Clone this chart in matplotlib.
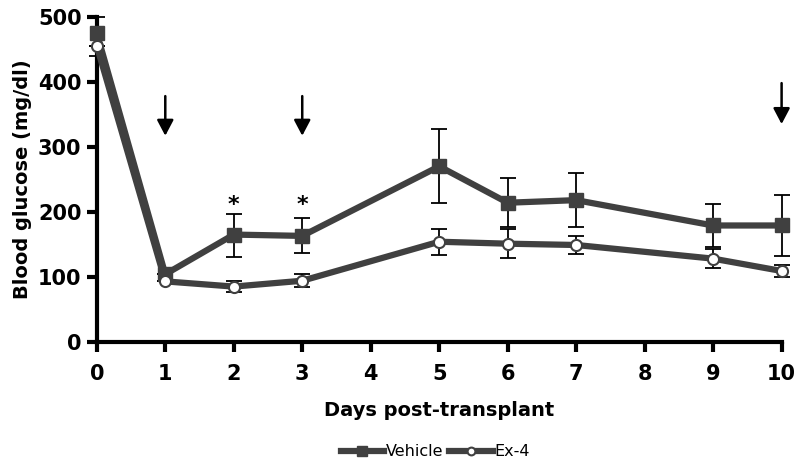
import matplotlib
matplotlib.use("Agg")
import matplotlib.pyplot as plt
import numpy as np

days = [0, 1, 2, 3, 5, 6, 7, 9, 10]
vehicle = [475, 104, 165, 163, 270, 214, 218, 179, 179]
vehicle_err_low = [36, 0, 34, 27, 57, 38, 41, 33, 47]
vehicle_err_high = [25, 0, 32, 27, 57, 38, 41, 33, 47]
ex4 = [455, 93, 85, 94, 154, 151, 149, 128, 109]
ex4_err = [0, 0, 9, 10, 20, 22, 14, 15, 9]
xticks = list(range(0, 11))
yticks = [0, 100, 200, 300, 400, 500]
arrow_days = [1, 3, 10]
arrow_top = [378, 378, 398]
arrow_bottom = [317, 317, 335]
star_days = [2, 3]
star_y = [210, 210]

plt.rcParams['font.family'] = ['DejaVu Sans']
fig = plt.figure(figsize=(8, 4.67), dpi=100)
ax = fig.add_axes([0.121, 0.268, 0.856, 0.696])

lc = '#404040'
ax.errorbar(days, vehicle, yerr=[vehicle_err_low, vehicle_err_high], fmt='none',
            ecolor='black', elinewidth=1.3, capsize=6, capthick=1.3, zorder=2,
            clip_on=False)
ax.errorbar(days, ex4, yerr=ex4_err, fmt='none', ecolor='black',
            elinewidth=1.3, capsize=6, capthick=1.3, zorder=2, clip_on=False)
ax.plot(days, vehicle, color=lc, lw=4.5, marker='s', ms=10, mfc=lc, mec=lc,
        label='Vehicle', zorder=3, clip_on=False)
ax.plot(days, ex4, color=lc, lw=4.5, marker='o', ms=8, mfc='white', mec=lc,
        mew=1.5, label='Ex-4', zorder=4, clip_on=False)

for d, t, b in zip(arrow_days, arrow_top, arrow_bottom):
    ax.annotate('', xy=(d, b), xytext=(d, t),
                arrowprops=dict(arrowstyle='-|>,head_width=0.5,head_length=0.95',
                                color='black', lw=1.8, shrinkA=0, shrinkB=0))
for d, y in zip(star_days, star_y):
    ax.text(d, y, '*', ha='center', va='center', fontsize=16, fontweight='bold')

ax.set_xlim(0, 10)
ax.set_ylim(0, 500)
ax.set_xticks(xticks)
ax.set_yticks(yticks)
ax.set_xticklabels([str(x) for x in xticks], fontsize=15, fontweight='bold')
ax.set_yticklabels([str(y) for y in yticks], fontsize=15, fontweight='bold')
for s in ['top', 'right']:
    ax.spines[s].set_visible(False)
for s in ['left', 'bottom']:
    ax.spines[s].set_linewidth(3)
ax.tick_params(axis='both', width=3, length=7, direction='out')
ax.tick_params(axis='x', pad=9)
ax.tick_params(axis='y', pad=4)
ax.set_xlabel('Days post-transplant', fontsize=14, fontweight='bold', labelpad=12)
ax.set_ylabel('Blood glucose (mg/dl)', fontsize=14, fontweight='bold', labelpad=4)

fig.legend(loc='center', bbox_to_anchor=(0.544, 1 - 452 / 467), ncol=2, frameon=False,
           fontsize=11.5, handlelength=2.7, columnspacing=0.4, handletextpad=0.1,
           markerscale=0.7)

fig.savefig('out.png', dpi=100)
